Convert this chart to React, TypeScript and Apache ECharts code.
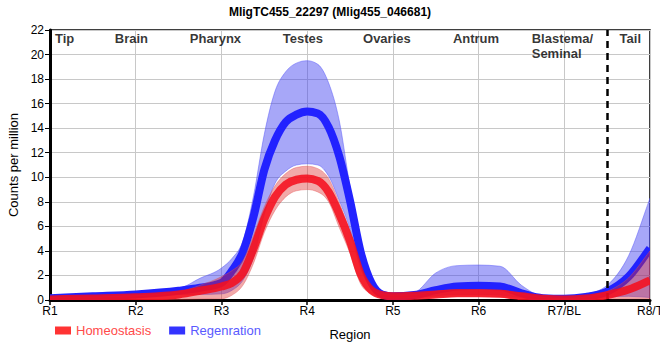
import React, { useEffect, useRef } from "react";
import * as echarts from "echarts";

const title = "MligTC455_22297 (Mlig455_046681)";
const tickLabels = ["R1", "R2", "R3", "R4", "R5", "R6", "R7/BL", "R8/T"];
const regionNames = ["Tip", "Brain", "Pharynx", "Testes", "Ovaries", "Antrum", "Blastema/\nSeminal", "Tail"];
const regionPos = [1.17, 1.95, 2.93, 3.95, 4.93, 5.97, 6.62, 7.77];
const dividerX = 7.5;

const xs = [1, 1.5, 2, 2.5, 2.75, 3, 3.125, 3.25, 3.375, 3.5, 3.625, 3.75, 3.875, 4, 4.125, 4.25, 4.375, 4.5, 4.625, 4.75, 4.875, 5, 5.25, 5.5, 5.75, 6, 6.25, 6.5, 6.75, 7, 7.25, 7.5, 7.75, 8];

const homMean = [0.05, 0.12, 0.22, 0.45, 0.75, 1.1, 1.4, 2.2, 4.2, 6.6, 8.4, 9.4, 9.8, 9.9, 9.7, 8.8, 7.0, 4.8, 2.1, 0.8, 0.4, 0.3, 0.35, 0.45, 0.55, 0.55, 0.5, 0.3, 0.1, 0.05, 0.12, 0.4, 0.85, 1.6];
const homUpper = [0.2, 0.25, 0.35, 0.65, 1.2, 1.9, 2.4, 3.2, 5.3, 7.6, 9.3, 10.3, 10.8, 10.9, 10.7, 9.9, 7.9, 5.6, 2.6, 1.0, 0.5, 0.4, 0.45, 0.7, 0.85, 0.85, 0.8, 0.5, 0.2, 0.12, 0.25, 0.7, 1.8, 4.0];
const homLower = [0, 0, 0, 0.05, 0.08, 0.1, 0.4, 1.2, 3.0, 5.5, 7.3, 8.4, 8.9, 9.0, 8.8, 8.0, 5.9, 3.8, 1.3, 0.5, 0.2, 0.15, 0.2, 0.25, 0.3, 0.3, 0.25, 0.12, 0.02, 0, 0, 0.1, 0.1, 0.1];

const regMean = [0.15, 0.3, 0.45, 0.75, 1.0, 1.4, 2.4, 3.9, 6.8, 10.6, 13.0, 14.5, 15.1, 15.35, 15.2, 14.1, 11.7, 8.1, 3.9, 1.4, 0.45, 0.3, 0.4, 0.8, 1.1, 1.17, 1.1, 0.55, 0.15, 0.1, 0.25, 0.68, 1.9, 4.2];
const regUpper = [0.27, 0.45, 0.68, 0.95, 1.77, 2.6, 3.4, 4.8, 8.5, 13.5, 17.0, 18.6, 19.3, 19.5, 19.2, 17.7, 14.6, 9.2, 4.5, 1.7, 0.5, 0.35, 0.6, 2.2, 2.8, 2.85, 2.75, 1.2, 0.3, 0.2, 0.45, 1.2, 3.6, 8.3];
const regLower = [0.05, 0.15, 0.25, 0.45, 0.45, 0.5, 0.8, 1.6, 3.5, 7.0, 9.5, 10.5, 11.0, 11.1, 11.0, 10.1, 8.1, 5.8, 2.6, 0.9, 0.3, 0.05, 0.2, 0.35, 0.45, 0.45, 0.4, 0.2, 0.05, 0.02, 0.1, 0.25, 0.3, 0.2];

const FONT = "Liberation Sans, Arial, sans-serif";

// Monotone cubic (in x) Bezier segments through pixel points
function monoSegments(pts: number[][]) {
  const n = pts.length;
  const h: number[] = [];
  const m: number[] = [];
  for (let i = 0; i < n - 1; i++) {
    h.push(pts[i + 1][0] - pts[i][0]);
    m.push((pts[i + 1][1] - pts[i][1]) / (pts[i + 1][0] - pts[i][0]));
  }
  const t: number[] = new Array(n).fill(0);
  t[0] = m[0];
  t[n - 1] = m[n - 2];
  for (let i = 1; i < n - 1; i++) {
    const s0 = m[i - 1];
    const s1 = m[i];
    const h0 = h[i - 1];
    const h1 = h[i];
    const p = (s0 * h1 + s1 * h0) / (h0 + h1);
    t[i] = (Math.sign(s0) + Math.sign(s1)) * Math.min(Math.abs(s0), Math.abs(s1), 0.5 * Math.abs(p)) || 0;
  }
  const segs: number[][][] = [];
  for (let i = 0; i < n - 1; i++) {
    const a = pts[i];
    const b = pts[i + 1];
    const d = h[i] / 3;
    segs.push([a, [a[0] + d, a[1] + t[i] * d], [b[0] - d, b[1] - t[i + 1] * d], b]);
  }
  return segs;
}

function curveD(pts: number[][]) {
  let d = `M${pts[0][0]},${pts[0][1]}`;
  for (const s of monoSegments(pts)) d += ` C${s[1][0]},${s[1][1]} ${s[2][0]},${s[2][1]} ${s[3][0]},${s[3][1]}`;
  return d;
}

function bandSeries(name: string, up: number[], lo: number[], fill: string, edge: string, z: number) {
  return {
    name,
    type: "custom",
    silent: true,
    clip: true,
    z,
    data: [0],
    renderItem: (_params: any, api: any) => {
      const upPts = xs.map((x, i) => api.coord([x, up[i]]));
      const loPts = xs.map((x, i) => api.coord([x, lo[i]]));
      const ls = monoSegments(loPts).reverse();
      let d = curveD(upPts);
      d += ` L${loPts[loPts.length - 1][0]},${loPts[loPts.length - 1][1]}`;
      for (const s of ls) d += ` C${s[2][0]},${s[2][1]} ${s[1][0]},${s[1][1]} ${s[0][0]},${s[0][1]}`;
      d += " Z";
      return {
        type: "path",
        shape: { pathData: d },
        style: { fill, stroke: edge, lineWidth: 1 },
      };
    },
  };
}

function lineSeries(name: string, vals: number[], color: string, opacity: number, z: number) {
  return {
    name,
    type: "custom",
    clip: true,
    z,
    itemStyle: { color },
    data: [0],
    renderItem: (_params: any, api: any) => {
      const pts = xs.map((x, i) => api.coord([x, vals[i]]));
      return {
        type: "path",
        shape: { pathData: curveD(pts) },
        style: { fill: "none", stroke: color, lineWidth: 8, opacity, lineJoin: "round" },
      };
    },
  };
}

export default function App() {
  const ref = useRef<HTMLDivElement>(null);
  useEffect(() => {
    if (!ref.current) return;
    const chart = echarts.init(ref.current, null, { renderer: "svg" });
    chart.setOption({
      animation: false,
      title: {
        text: title,
        left: "center",
        top: 1,
        textStyle: { fontFamily: FONT, fontSize: 12, fontWeight: "bold", color: "#000" },
      },
      legend: {
        left: 50,
        top: 319,
        icon: "rect",
        itemWidth: 16,
        itemHeight: 8,
        itemGap: 18,
        textStyle: { fontFamily: FONT, fontSize: 13 },
        data: [
          { name: "Homeostasis", itemStyle: { color: "#ff3333" }, textStyle: { color: "#ff4a4a" } },
          { name: "Regenration", itemStyle: { color: "#3333ff" }, textStyle: { color: "#5a5aff" } },
        ],
      },
      grid: {
        left: 50,
        right: 10,
        top: 30,
        bottom: 60,
        outerBoundsMode: "none",
        show: true,
        borderColor: "#000",
        borderWidth: 1.5,
        backgroundColor: "transparent",
      },
      xAxis: {
        type: "value",
        min: 1,
        max: 8,
        interval: 1,
        name: "Region",
        nameLocation: "middle",
        nameGap: 28,
        nameTextStyle: { fontFamily: FONT, fontSize: 13, color: "#000" },
        axisLine: { show: true, lineStyle: { color: "#000", width: 3 } },
        axisTick: { show: true, length: 5, lineStyle: { color: "#000", width: 1.5 } },
        axisLabel: {
          fontFamily: FONT,
          fontSize: 12,
          color: "#000",
          margin: 5,
          formatter: (v: number) => tickLabels[Math.round(v) - 1] ?? "",
        },
        splitLine: { show: true, lineStyle: { color: "#c8c8c8", width: 1 } },
      },
      yAxis: {
        type: "value",
        min: 0,
        max: 22,
        interval: 2,
        name: "Counts per million",
        nameLocation: "middle",
        nameGap: 25,
        nameTextStyle: { fontFamily: FONT, fontSize: 13, color: "#000" },
        axisLine: { show: true, lineStyle: { color: "#000", width: 3 } },
        axisTick: { show: true, length: 5, lineStyle: { color: "#000", width: 1 } },
        axisLabel: { fontFamily: FONT, fontSize: 12, color: "#000", margin: 6 },
        splitLine: { show: true, lineStyle: { color: "#c8c8c8", width: 1 } },
      },
      series: [
        bandSeries("regBand", regUpper, regLower, "rgba(60,60,240,0.45)", "rgba(90,90,250,0.5)", 2),
        lineSeries("Regenration", regMean, "#2222ff", 1, 3),
        bandSeries("homBand", homUpper, homLower, "rgba(220,40,40,0.4)", "rgba(230,80,80,0.4)", 4),
        lineSeries("Homeostasis", homMean, "rgb(245,15,30)", 0.88, 5),
        {
          name: "regions",
          type: "scatter",
          symbolSize: 0,
          silent: true,
          z: 6,
          data: regionPos.map((x, i) => ({
            value: [x, 22],
            label: { align: i === 6 ? "left" : "center", formatter: regionNames[i] },
          })),
          label: {
            show: true,
            position: [0, 1],
            verticalAlign: "top",
            fontFamily: FONT,
            fontSize: 13,
            fontWeight: "bold",
            color: "#000",
            lineHeight: 15,
          },
          markLine: {
            silent: true,
            symbol: "none",
            label: { show: false },
            lineStyle: { color: "#000", type: [7, 5], width: 2.5 },
            data: [{ xAxis: dividerX }],
          },
        },
      ],
    });
    return () => chart.dispose();
  }, []);
  return <div ref={ref} style={{ position: "absolute", left: 0, top: 0, width: 660, height: 360 }} />;
}
